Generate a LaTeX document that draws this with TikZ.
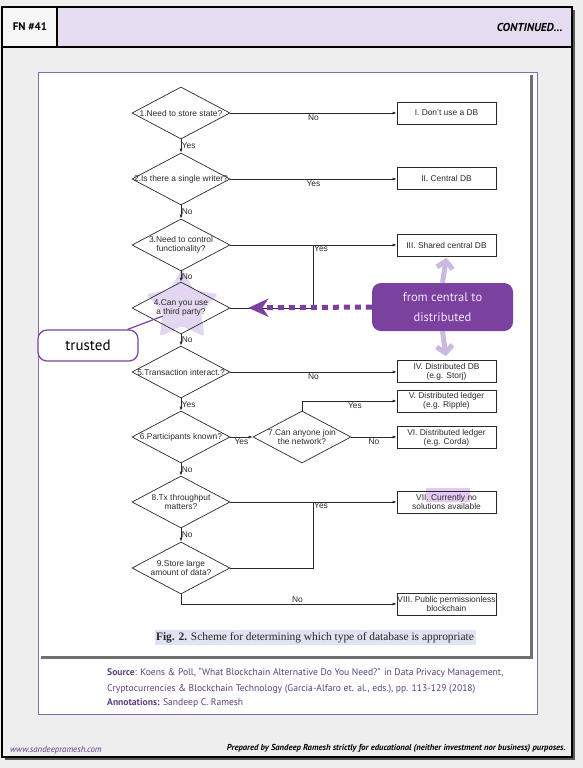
\documentclass[tikz,border=0pt]{standalone}
\usepackage{fontspec}
\setmainfont{Liberation Sans}
\newfontfamily\gillfont{PT Sans}
\newfontfamily\capfont{Liberation Serif}
\usetikzlibrary{shapes.geometric,arrows.meta,shadows,calc}
\definecolor{pagebg}{HTML}{EEEEEE}
\definecolor{hdrlav}{HTML}{E5DCF2}
\definecolor{frm}{HTML}{8A6AAE}
\definecolor{purp}{HTML}{7B419F}
\definecolor{lilac}{HTML}{CBB9E0}
\definecolor{starc}{HTML}{E2D6F1}
\definecolor{srctext}{HTML}{5E3F80}
\definecolor{capbg}{HTML}{E0E3F2}
\definecolor{hl}{HTML}{E3C9F2}
\definecolor{ink}{HTML}{2A2A2A}
\definecolor{fctext}{HTML}{F1E6FA}
\begin{document}
\begin{tikzpicture}[x=1pt,y=-1pt,
  dec/.style={diamond, draw=ink, line width=0.7pt, minimum width=98pt, minimum height=52pt, inner sep=0pt},
  dtext/.style={font=\fontsize{8.4}{9.4}\selectfont, text=ink, align=center, inner sep=0pt},
  outbox/.style={draw=ink, line width=0.7pt, minimum width=99pt, minimum height=22pt, inner sep=0pt, font=\fontsize{8.4}{9.2}\selectfont, text=ink, align=center},
  flowarr/.style={draw=ink, line width=0.7pt, -{Latex[length=4pt,width=3pt]}},
  cline/.style={draw=ink, line width=0.7pt},
  lab/.style={font=\fontsize{8.4}{9.4}\selectfont, text=ink, inner sep=1.5pt},
]
\useasboundingbox (0,0) rectangle (583,768);
\fill[pagebg] (0,0) rectangle (583,768);
% outer frame
\draw[line width=2pt, fill=pagebg, drop shadow={shadow xshift=3pt, shadow yshift=-3pt, fill=black!75, opacity=0.85}] (2,7) rectangle (572,757);
% header
\draw[line width=1.8pt, fill=hdrlav] (57,7) rectangle (572,47);
\draw[line width=1.8pt, fill=pagebg!50!white] (2,7) rectangle (57,47);
\node[font=\gillfont\bfseries\fontsize{11}{12}\selectfont] (fn) at (30,27) {FN \#41};
\node[font=\gillfont\bfseries\itshape\fontsize{11.5}{12}\selectfont, anchor=east] (cont) at (566,27) {CONTINUED...};
% content frame and paper
\draw[frm, line width=0.9pt, fill=white] (38,72) rectangle (537,714);
\path[fill=white, drop shadow={shadow xshift=2.5pt, shadow yshift=-2.5pt, fill=black!70, opacity=0.8}] (38.5,72.5) rectangle (530,656);
% star highlight
\node[star, star points=5, star point ratio=1.9, minimum size=76pt, inner sep=0pt, fill=starc, rounded corners=3pt] (star) at (182,306) {};
% highlight of "Currently"
\fill[hl] (426,488) rectangle (470,502);
% caption highlight
\fill[capbg] (155,630) rectangle (476,645);
% decisions
\node[dec] (d1) at (181,113) {};
\node[dtext] at (d1) {1.Need to store state?};
\node[dec] (d2) at (181,179) {};
\node[dtext] at (d2) {2.Is there a single writer?};
\node[dec] (d3) at (181,245) {};
\node[dtext] at (d3) {3.Need to control\\functionality?};
\node[dec] (d4) at (181,308) {};
\node[dtext] at (d4) {4.Can you use\\a third party?};
\node[dec] (d5) at (181,372) {};
\node[dtext] at (d5) {5.Transaction interact.?};
\node[dec] (d6) at (181,437) {};
\node[dtext] at (d6) {6.Participants known?};
\node[dec] (d7) at (302,437) {};
\node[dtext] at (d7) {7.Can anyone join\\the network?};
\node[dec] (d8) at (181,502) {};
\node[dtext] at (d8) {8.Tx throughput\\matters?};
\node[dec] (d9) at (181,568) {};
\node[dtext] at (d9) {9.Store large\\amount of data?};
% outcomes
\node[outbox] (b1) at (446.5,113) {I. Don't use a DB};
\node[outbox] (b2) at (446.5,178.5) {II. Central DB};
\node[outbox] (b3) at (446.5,245.5) {III. Shared central DB};
\node[outbox] (b4) at (446.5,371.5) {IV. Distributed DB\\(e.g. Storj)};
\node[outbox] (b5) at (446.5,401) {V. Distributed ledger\\(e.g. Ripple)};
\node[outbox] (b6) at (446.5,437.5) {VI. Distributed ledger\\(e.g. Corda)};
\node[outbox] (b7) at (446.5,502) {VII. Currently no\\solutions available};
\node[outbox] (b8) at (446.5,604) {VIII. Public permissionless\\blockchain};
% connectors
\draw[flowarr] (d1.east) -- node[lab, below] {No} (d1.east -| b1.west);
\draw[flowarr] (d1.south) -- node[lab, right, inner sep=0.5pt] {Yes} (d2.north);
\draw[flowarr] (d2.east) -- node[lab, below] {Yes} (d2.east -| b2.west);
\draw[flowarr] (d2.south) -- node[lab, right, inner sep=0.5pt] {No} (d3.north);
\draw[flowarr] (d3.east) -- (d3.east -| b3.west);
\node[lab, anchor=north west, inner sep=1pt] (y3) at (313,245) {Yes};
\draw[flowarr] (d3.south) -- node[lab, right, inner sep=0.5pt] {No} (d4.north);
\coordinate (j1) at (313,245);
\draw[cline] (d4.east) -| (j1);
\draw[flowarr] (d4.south) -- node[lab, right, inner sep=0.5pt] {No} (d5.north);
\draw[flowarr] (d5.east) -- node[lab, below] {No} (d5.east -| b4.west);
\draw[flowarr] (d5.south) -- node[lab, right, inner sep=0.5pt] {Yes} (d6.north);
\draw[flowarr] (d6.east) -- node[lab, below] {Yes} (d7.west);
\draw[flowarr] (d7.north) |- node[lab, below, pos=0.78] {Yes} (b5.west);
\draw[flowarr] (d7.east) -- node[lab, below] {No} (d7.east -| b6.west);
\draw[flowarr] (d6.south) -- node[lab, right, inner sep=0.5pt] {No} (d8.north);
\draw[flowarr] (d8.east) -- (d8.east -| b7.west);
\node[lab, anchor=north west, inner sep=1pt] (y8) at (313,502) {Yes};
\draw[flowarr] (d8.south) -- node[lab, right, inner sep=0.5pt] {No} (d9.north);
\coordinate (j2) at (313,502);
\draw[cline] (d9.east) -| (j2);
\draw[flowarr] (d9.south) |- node[lab, above, pos=0.77] {No} (b8.west);
% caption
\node[font=\capfont\fontsize{11.4}{13}\selectfont, text=black!85] (cap) at (315,637.5) {\textbf{Fig. 2.} Scheme for determining which type of database is appropriate};
% annotations
\node[fill=purp, rounded corners=9pt, minimum width=141pt, minimum height=48pt, inner sep=0pt, text=fctext, font=\gillfont\fontsize{12.5}{20}\selectfont, align=center] (fc) at (442.5,307) {from central to\\distributed};
\draw[purp, line width=5pt, dash pattern=on 6pt off 5pt, shorten >=18pt, -{Stealth[length=20pt,width=18pt,inset=6pt]}] (fc.west) -- (d4.east);
\draw[lilac, line width=5pt, shorten >=1pt, -{Straight Barb[length=7pt,width=16pt]}] (fc.north) -- (b3.south);
\draw[lilac, line width=5pt, shorten >=4pt, -{Straight Barb[length=7pt,width=16pt]}] (fc.south) -- (b4.north);
\node[draw=purp, line width=1.2pt, fill=white, rounded corners=9pt, minimum width=100pt, minimum height=31pt, inner sep=0pt, font=\gillfont\fontsize{15}{18}\selectfont] (tr) at (88,345.5) {trusted};
\coordinate (tpt) at (163,316);
\draw[purp, line width=1.2pt] ([xshift=-11pt]tr.north east) -- (tpt);
% source
\node[anchor=west, font=\gillfont\fontsize{9.6}{11}\selectfont, text=srctext, inner sep=0pt] (src1) at (107,673) {\textbf{Source}: Koens \& Poll, “What Blockchain Alternative Do You Need?” in Data Privacy Management,};
\node[anchor=west, font=\gillfont\fontsize{9.6}{11}\selectfont, text=srctext, inner sep=0pt] (src2) at (107,689) {Cryptocurrencies \& Blockchain Technology (Garcia-Alfaro et. al., eds.), pp. 113-129 (2018)};
\node[anchor=west, font=\gillfont\fontsize{9.6}{11}\selectfont, text=srctext, inner sep=0pt] (src3) at (107,703) {\textbf{Annotations:} Sandeep C. Ramesh};
% footer
\node[anchor=west, font=\gillfont\itshape\fontsize{8.8}{10}\selectfont, text=srctext, inner sep=0pt] (www) at (10,750) {www.sandeepramesh.com};
\node[anchor=east, font=\gillfont\bfseries\itshape\fontsize{8.6}{10}\selectfont, inner sep=0pt] (prep) at (566,748) {Prepared by Sandeep Ramesh strictly for educational (neither investment nor business) purposes.};
\end{tikzpicture}
\end{document}
